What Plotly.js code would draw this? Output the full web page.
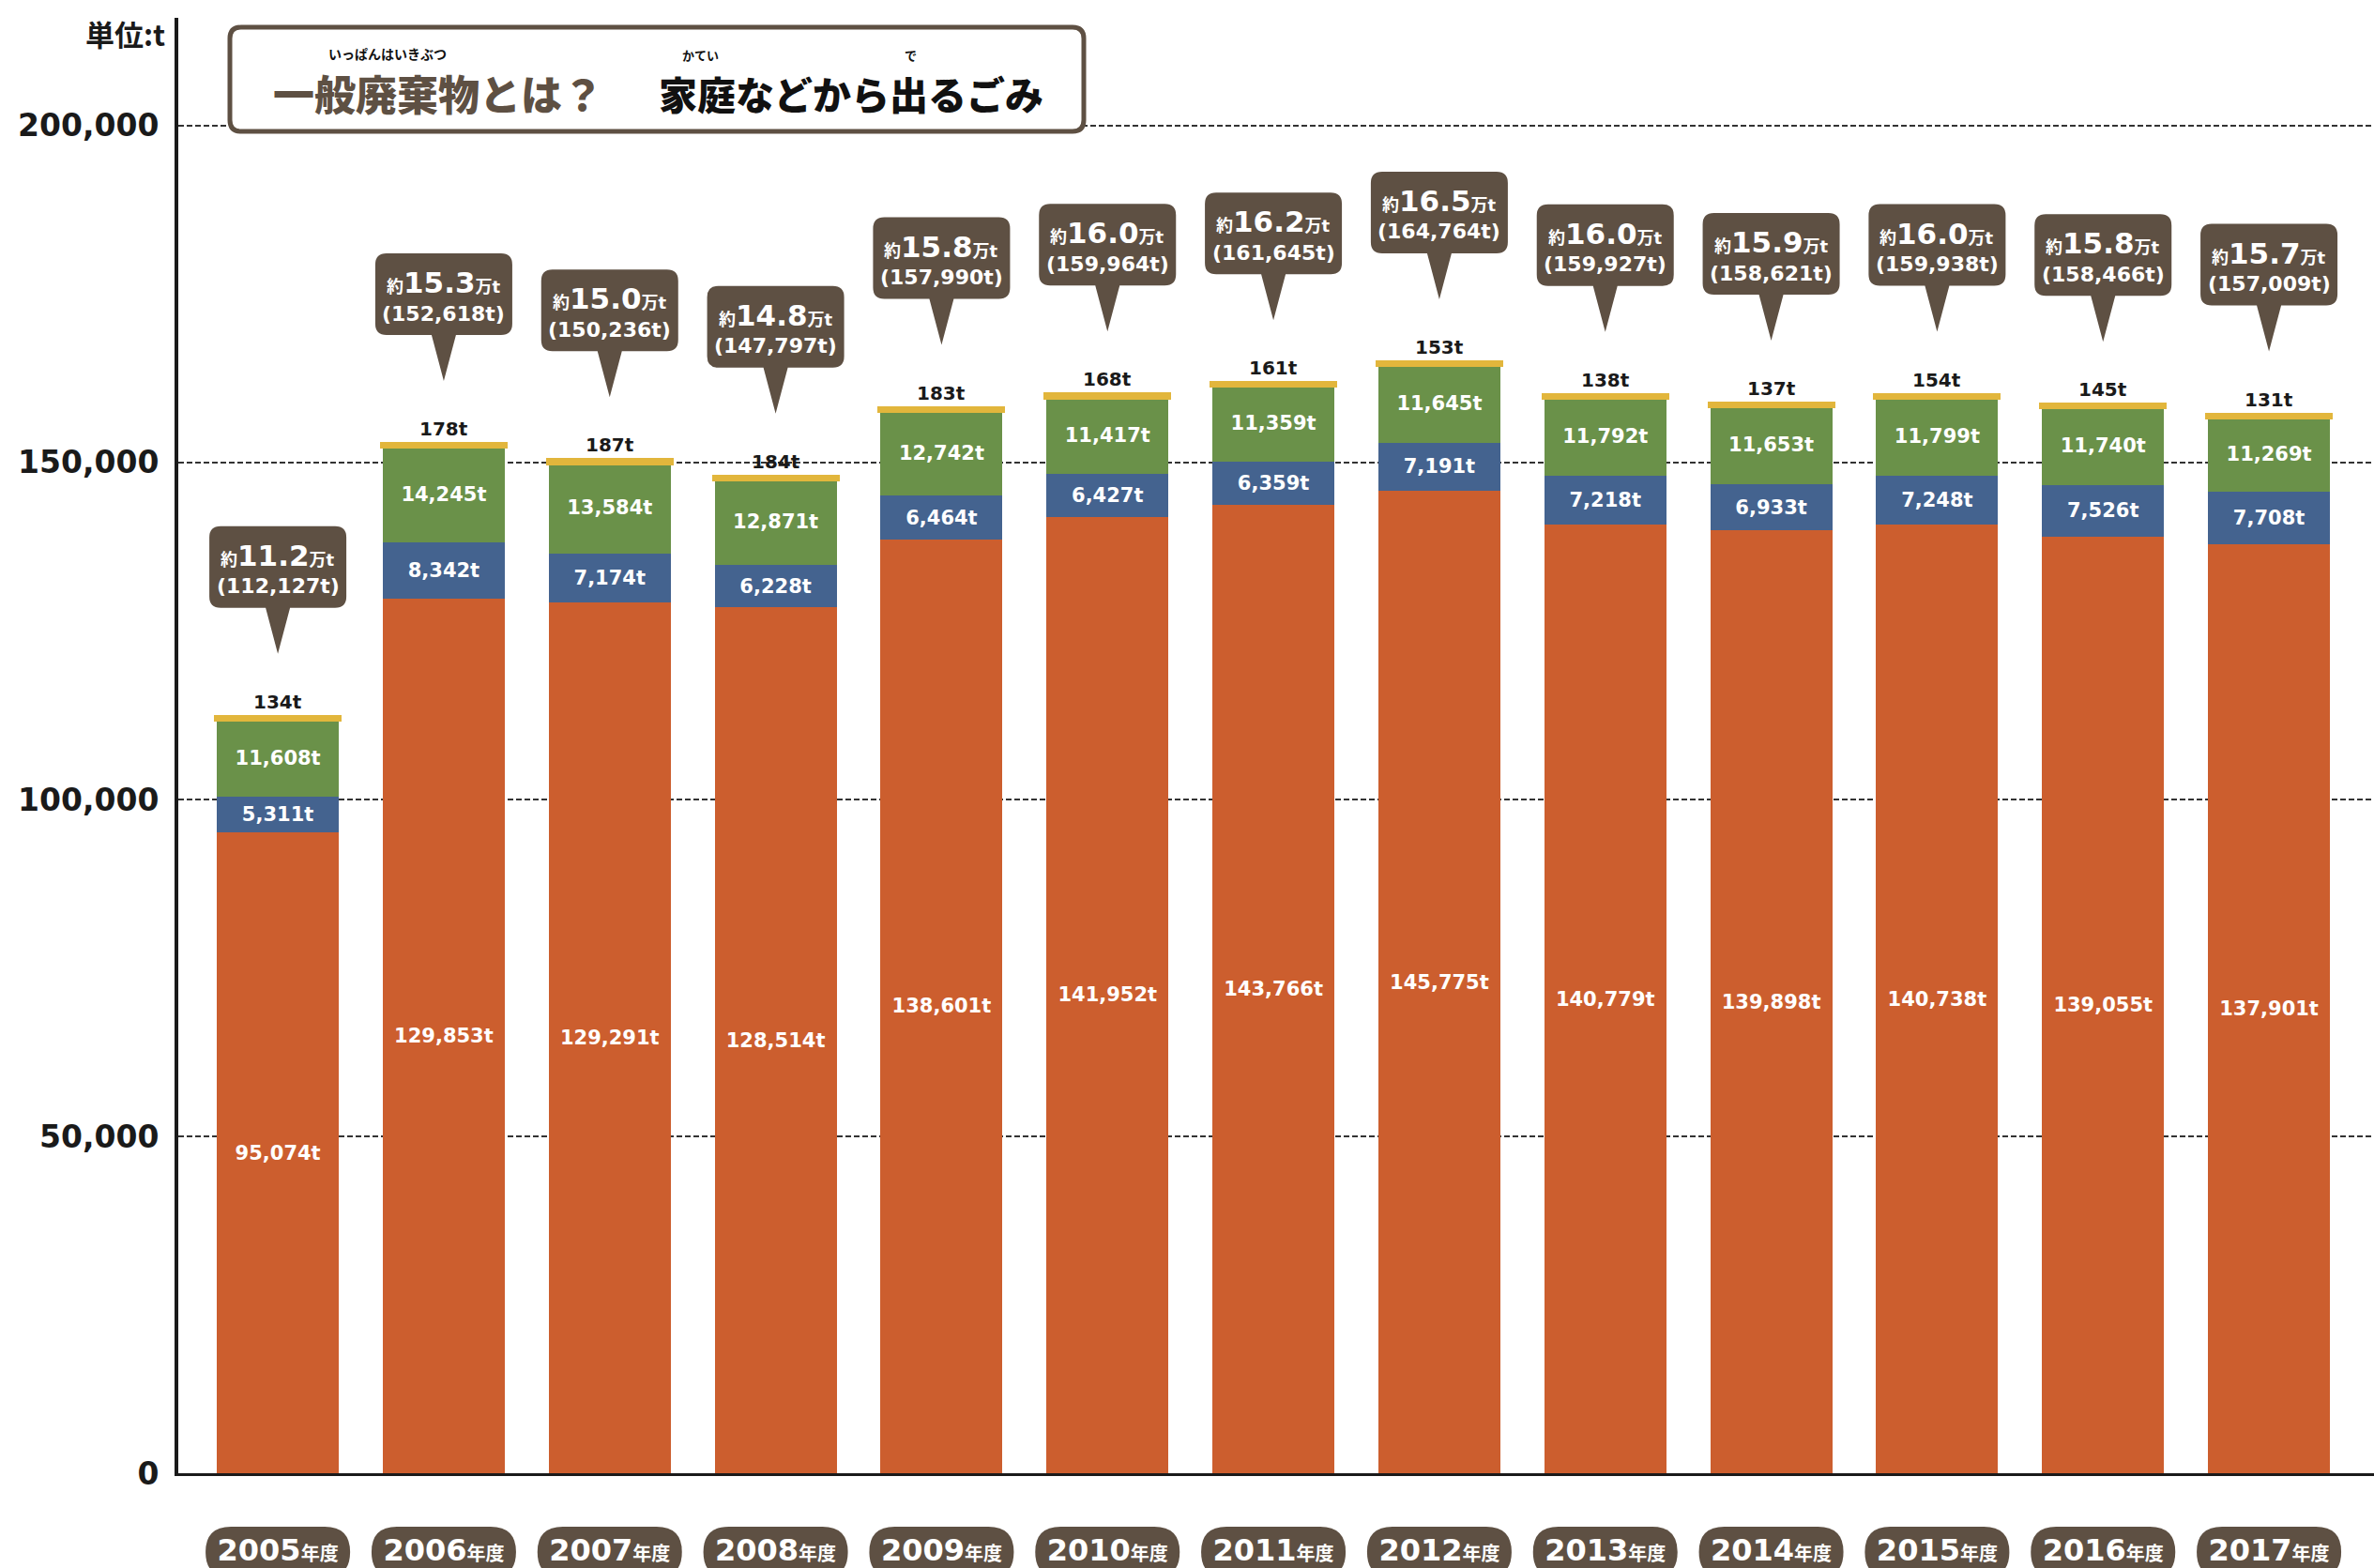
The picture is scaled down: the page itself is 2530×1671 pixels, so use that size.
<!DOCTYPE html>
<html>
<head>
<meta charset="utf-8">
<script src="https://cdn.plot.ly/plotly-3.0.1.min.js"></script>
<style>html,body{margin:0;padding:0;background:#fff}#chart{width:2530px;height:1671px}</style>
</head>
<body>
<div id="chart"></div>
<script>
// ---- data ----
const years = [2005, 2006, 2007, 2008, 2009, 2010, 2011, 2012, 2013, 2014, 2015, 2016, 2017];
const orangeValues = [95074, 129853, 129291, 128514, 138601, 141952, 143766, 145775, 140779, 139898, 140738, 139055, 137901];
const blueValues   = [5311, 8342, 7174, 6228, 6464, 6427, 6359, 7191, 7218, 6933, 7248, 7526, 7708];
const greenValues  = [11608, 14245, 13584, 12871, 12742, 11417, 11359, 11645, 11792, 11653, 11799, 11740, 11269];
const yellowValues = [134, 178, 187, 184, 183, 168, 161, 153, 138, 137, 154, 145, 131];
const totals       = [112127, 152618, 150236, 147797, 157990, 159964, 161645, 164764, 159927, 158621, 159938, 158466, 157009];
const approxMan    = ['11.2', '15.3', '15.0', '14.8', '15.8', '16.0', '16.2', '16.5', '16.0', '15.9', '16.0', '15.8', '15.7'];
const yTickVals    = [0, 50000, 100000, 150000, 200000];
const yTickLabels  = ['0', '50,000', '100,000', '150,000', '200,000'];
const yearSuffix   = '年度';
const unitLabel    = '単位:t';
const titleLeft    = '一般廃棄物とは？';
const titleRight   = '家庭などから出るごみ';
const rubyLeft     = 'いっぱんはいきぶつ';
const rubyKatei    = 'かてい';
const rubyDe       = 'で';

// ---- styles ----
const NUM = '"DejaVu Sans", "Noto Sans CJK JP", sans-serif';
const JP = '"Noto Sans CJK JP", "Noto Sans", sans-serif';
const C_ORANGE = '#cc5e2e';
const C_BLUE = '#44638f';
const C_GREEN = '#6a9149';
const C_YELLOW = '#e2b63c';
const C_BROWN = '#5e5043';

const fmt = v => v.toLocaleString('en-US');

function barTrace(vals, color, withText) {
  return {
    type: 'bar', x: years, y: vals,
    marker: { color: color, line: { width: 0 } },
    text: withText ? vals.map(v => fmt(v) + 't') : undefined,
    textposition: withText ? 'inside' : 'none',
    insidetextanchor: 'middle', textangle: 0, constraintext: 'none',
    textfont: { family: NUM, size: 21, color: '#ffffff', weight: 'bold' },
    hoverinfo: 'skip'
  };
}

const traces = [
  barTrace(orangeValues, C_ORANGE, true),
  barTrace(blueValues, C_BLUE, true),
  barTrace(greenValues, C_GREEN, true),
  Object.assign(barTrace(yellowValues, C_YELLOW, false), { marker: { color: C_YELLOW, line: { color: C_YELLOW, width: 6 } } })
];

// plot area geometry helpers (pixels -> paper)
const PL = 190, PR = 2530, PT = 19, PB = 1570;
const px = x => (x - PL) / (PR - PL);
const py = y => (PB - y) / (PB - PT);

const shapes = [];
const annotations = [];

// title box
shapes.push({
  type: 'path', xref: 'paper', yref: 'paper', xsizemode: 'pixel', ysizemode: 'pixel', xanchor: 0, yanchor: 1,
  path: 'M 67,-10 L 953,-10 Q 965,-10 965,-22 L 965,-109 Q 965,-121 953,-121 L 67,-121 Q 55,-121 55,-109 L 55,-22 Q 55,-10 67,-10 Z',
  fillcolor: '#ffffff', line: { color: C_BROWN, width: 5 }, layer: 'above'
});
annotations.push(
  { xref: 'paper', yref: 'paper', x: px(467), y: py(99), text: titleLeft, showarrow: false, xanchor: 'center', yanchor: 'middle',
    font: { family: JP, size: 44, color: C_BROWN, weight: 900 } },
  { xref: 'paper', yref: 'paper', x: px(907), y: py(99), text: titleRight, showarrow: false, xanchor: 'center', yanchor: 'middle',
    font: { family: JP, size: 41, color: '#111111', weight: 900 } },
  { xref: 'paper', yref: 'paper', x: px(413), y: py(57), text: rubyLeft, showarrow: false, xanchor: 'center', yanchor: 'middle',
    font: { family: JP, size: 14, color: '#111111', weight: 'bold' } },
  { xref: 'paper', yref: 'paper', x: px(746), y: py(59), text: rubyKatei, showarrow: false, xanchor: 'center', yanchor: 'middle',
    font: { family: JP, size: 13, color: '#111111', weight: 'bold' } },
  { xref: 'paper', yref: 'paper', x: px(970), y: py(59), text: rubyDe, showarrow: false, xanchor: 'center', yanchor: 'middle',
    font: { family: JP, size: 13, color: '#111111', weight: 'bold' } },
  { xref: 'paper', yref: 'paper', x: 0, xshift: -12, y: py(36), text: unitLabel, showarrow: false, xanchor: 'right', yanchor: 'middle',
    font: { family: JP, size: 31, color: '#1a1a1a', weight: 'bold' } }
);

// callouts, top labels, year pills
const calloutPath = 'M -61,204 L 61,204 Q 73,204 73,192 L 73,129 Q 73,117 61,117 L 13,117 L 0,68 L -13,117 L -61,117 Q -73,117 -73,129 L -73,192 Q -73,204 -61,204 Z';
const pillPath = 'M -50,-57 L 50,-57 Q 77,-57 77,-84 Q 77,-111 50,-111 L -50,-111 Q -77,-111 -77,-84 Q -77,-57 -50,-57 Z';
years.forEach((yr, i) => {
  shapes.push({
    type: 'path', xref: 'x', yref: 'y', xsizemode: 'pixel', ysizemode: 'pixel', xanchor: yr, yanchor: totals[i],
    path: calloutPath, fillcolor: C_BROWN, line: { width: 0 }, layer: 'above'
  });
  shapes.push({
    type: 'path', xref: 'x', yref: 'paper', xsizemode: 'pixel', ysizemode: 'pixel', xanchor: yr, yanchor: 0,
    path: pillPath, fillcolor: C_BROWN, line: { width: 0 }, layer: 'below'
  });
  annotations.push({
    x: yr, y: totals[i], xref: 'x', yref: 'y', yshift: 173, showarrow: false, xanchor: 'center', yanchor: 'middle',
    text: '<span style="font-size:18px">約</span>' + approxMan[i] + '<span style="font-size:18px">万t</span>',
    font: { family: NUM, size: 31, color: '#ffffff', weight: 'bold' }
  });
  annotations.push({
    x: yr, y: totals[i], xref: 'x', yref: 'y', yshift: 140, showarrow: false, xanchor: 'center', yanchor: 'middle',
    text: '(' + fmt(totals[i]) + 't)',
    font: { family: NUM, size: 22, color: '#ffffff', weight: 'bold' }
  });
  annotations.push({
    x: yr, y: totals[i], xref: 'x', yref: 'y', yshift: 17, showarrow: false, xanchor: 'center', yanchor: 'middle',
    text: yellowValues[i] + 't',
    font: { family: NUM, size: 20, color: '#1a1a1a', weight: 'bold' }
  });
});

const layout = {
  width: 2530, height: 1671,
  margin: { l: PL, r: 2530 - PR, t: PT, b: 1671 - PB, pad: 0 },
  paper_bgcolor: '#ffffff', plot_bgcolor: '#ffffff',
  barmode: 'stack', bargap: 0.265, showlegend: false,
  xaxis: {
    range: [2004.4, 2017.633], showgrid: false, zeroline: false,
    showline: true, linecolor: '#1a1a1a', linewidth: 3,
    tickvals: years, ticktext: years.map(y => y + '<span style="font-size:20px">' + yearSuffix + '</span>'),
    ticks: '', ticklabelstandoff: 52,
    tickfont: { family: NUM, size: 32, color: '#ffffff', weight: 'bold' }
  },
  yaxis: {
    range: [0, 216000], tickvals: yTickVals, ticktext: yTickLabels,
    showgrid: true, gridcolor: '#333333', gridwidth: 1.5, griddash: '6px,3px',
    zeroline: false, showline: true, linecolor: '#1a1a1a', linewidth: 4,
    ticks: '', ticklabelstandoff: 10,
    tickfont: { family: NUM, size: 33, color: '#1a1a1a', weight: 'bold' }
  },
  shapes: shapes,
  annotations: annotations
};

Plotly.newPlot('chart', traces, layout, { displayModeBar: false, staticPlot: true });
</script>
</body>
</html>
